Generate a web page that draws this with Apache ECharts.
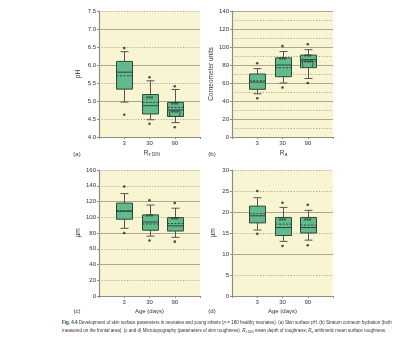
<!DOCTYPE html>
<html><head><meta charset="utf-8">
<script src="https://cdn.jsdelivr.net/npm/echarts@6/dist/echarts.min.js"></script>
<style>html,body{margin:0;padding:0;background:#fff}#c{width:400px;height:343px}</style>
</head><body><div id="c"></div>
<script>
// categories (age in days)
const ageLabels = ['3', '30', '90'];
// box stats per age: [xIndex, whiskerLow, Q1, median, mean, Q3, whiskerHigh]
const boxA = [[1, 4.97, 5.33, 5.80, 5.70, 6.10, 6.37], [2, 4.48, 4.64, 4.87, 4.96, 5.18, 5.56], [3, 4.40, 4.57, 4.75, 4.82, 4.96, 5.32]];
const outA = [[1, 6.47], [1, 4.62], [2, 5.66], [2, 4.37], [3, 5.41], [3, 4.27]];
const starsA = [[2, 5.05, '***'], [3, 4.88, '***'], [3, 4.67, '(***)']];

const boxB = [[1, 48, 53, 61, 62.5, 70, 76], [2, 60, 67, 80, 77, 88, 95], [3, 65, 77, 86, 84, 91, 97]];
const outB = [[1, 82], [1, 43], [2, 101], [2, 55], [3, 103], [3, 60]];
const starsB = [[2, 85, '***'], [3, 88.5, '***'], [3, 82.5, '(***)']];

const boxC = [[1, 86, 97.5, 107.5, 108.5, 118, 130], [2, 76, 83.5, 94, 91.5, 103, 115.5], [3, 74.5, 82.5, 89, 92, 99.5, 111.5]];
const outC = [[1, 139], [1, 80], [2, 121.5], [2, 70.5], [3, 118], [3, 69]];
const starsC = [[2, 100, '***'], [3, 96.5, '***']];

const boxD = [[1, 15.7, 17.4, 19.1, 19.6, 21.4, 23.4], [2, 13, 14.4, 16.3, 17.1, 18.7, 21.1], [3, 13.3, 15.0, 16.3, 16.9, 18.7, 20.4]];
const outD = [[1, 25], [1, 14.8], [2, 22.2], [2, 11.9], [3, 21.7], [3, 12.1]];
const starsD = [[2, 17.9, '***'], [3, 17.8, '***']];

// axis settings: [min, max, dottedStep, solidStep, labelOnSolid, name]
const axisA = [4, 7.5, 0.5, 1, false, 'pH'];
const axisB = [0, 140, 10, 20, true, 'Corneometer units'];
const axisC = [0, 160, 20, 40, false, 'µm'];
const axisD = [0, 30, 5, 10, false, 'µm'];

const panels = [
  {box: boxA, out: outA, stars: starsA, ax: axisA, grid: {left: 99, top: 11, width: 101, height: 126}, gap: 17, fmt: v => v.toFixed(1)},
  {box: boxB, out: outB, stars: starsB, ax: axisB, grid: {left: 232, top: 11, width: 101, height: 126}, gap: 14, fmt: v => String(v)},
  {box: boxC, out: outC, stars: starsC, ax: axisC, grid: {left: 99, top: 170, width: 101, height: 126}, gap: 16, fmt: v => String(v)},
  {box: boxD, out: outD, stars: starsD, ax: axisD, grid: {left: 232, top: 170, width: 101, height: 126}, gap: 15, fmt: v => String(v)}
];

const GRID_LINE = '#aba795';
const AXIS_LINE = '#8c8c8c';
const FONT = 'Liberation Sans';

function renderBox(params, api) {
  const x = api.value(0);
  const lo = api.coord([x, api.value(1)]);
  const q1 = api.coord([x, api.value(2)]);
  const med = api.coord([x, api.value(3)]);
  const mean = api.coord([x, api.value(4)]);
  const q3 = api.coord([x, api.value(5)]);
  const hi = api.coord([x, api.value(6)]);
  const cx = Math.round(lo[0]) + 0.5;
  const bw = 16, cw = 8;
  const wStyle = {stroke: '#555', lineWidth: 1};
  const dark = '#2d4a3b';
  return {type: 'group', children: [
    {type: 'line', shape: {x1: cx, y1: lo[1], x2: cx, y2: q1[1]}, style: wStyle},
    {type: 'line', shape: {x1: cx, y1: q3[1], x2: cx, y2: hi[1]}, style: wStyle},
    {type: 'line', shape: {x1: cx - cw / 2, y1: lo[1], x2: cx + cw / 2, y2: lo[1]}, style: wStyle},
    {type: 'line', shape: {x1: cx - cw / 2, y1: hi[1], x2: cx + cw / 2, y2: hi[1]}, style: wStyle},
    {type: 'rect', shape: {x: cx - bw / 2, y: q3[1], width: bw, height: q1[1] - q3[1]}, style: {fill: '#62b98c', stroke: dark, lineWidth: 1}},
    {type: 'line', shape: {x1: cx - bw / 2, y1: med[1], x2: cx + bw / 2, y2: med[1]}, style: {stroke: dark, lineWidth: 1}},
    {type: 'line', shape: {x1: cx - bw / 2, y1: mean[1], x2: cx + bw / 2, y2: mean[1]}, style: {stroke: dark, lineWidth: 1, lineDash: [2, 1.5]}}
  ]};
}

const grids = [], xAxes = [], yAxes = [], series = [];
panels.forEach((p, gi) => {
  const [min, max, dStep, sStep, labelOnSolid, name] = p.ax;
  grids.push(Object.assign({show: true, backgroundColor: '#f9f5d2', borderWidth: 0}, p.grid));
  xAxes.push({type: 'value', gridIndex: gi, min: 0, max: 4, interval: 1,
    axisLine: {show: true, onZero: false, lineStyle: {color: AXIS_LINE, width: 1}},
    axisTick: {show: true, length: 2, lineStyle: {color: AXIS_LINE}},
    axisLabel: {fontSize: 6, color: '#333', margin: 3, fontFamily: FONT, formatter: v => ageLabels[v - 1] || ''},
    splitLine: {show: false}});
  const labelled = {
    axisLine: {show: true, onZero: false, lineStyle: {color: AXIS_LINE, width: 1.2}},
    axisTick: {show: true, length: 2, lineStyle: {color: AXIS_LINE}},
    axisLabel: {show: true, fontSize: 6, color: '#333', margin: 3, fontFamily: FONT, formatter: p.fmt},
    name: name, nameLocation: 'middle', nameGap: p.gap,
    nameTextStyle: {fontSize: 6.5, color: '#333', fontFamily: FONT}
  };
  const hidden = {axisLine: {show: false}, axisTick: {show: false}, axisLabel: {show: false}};
  const dotted = Object.assign({type: 'value', gridIndex: gi, min, max, interval: dStep, z: 1,
    position: labelOnSolid ? 'right' : 'left',
    splitLine: {show: true, showMinLine: false, lineStyle: {color: GRID_LINE, width: 1, type: [1.2, 1.6]}}},
    labelOnSolid ? hidden : labelled);
  const solid = Object.assign({type: 'value', gridIndex: gi, min, max, interval: sStep, z: 2,
    position: labelOnSolid ? 'left' : 'right',
    splitLine: {show: true, showMinLine: false, showMaxLine: labelOnSolid, lineStyle: {color: GRID_LINE, width: 1}}},
    labelOnSolid ? labelled : hidden);
  yAxes.push(dotted, solid);
  const yi = gi * 2;
  series.push({type: 'custom', xAxisIndex: gi, yAxisIndex: yi, renderItem: renderBox,
    encode: {x: 0, y: [1, 2, 3, 4, 5, 6]}, data: p.box, z: 3});
  series.push({type: 'scatter', xAxisIndex: gi, yAxisIndex: yi, symbol: 'circle', symbolSize: 2.6,
    itemStyle: {color: '#222'}, data: p.out, z: 4});
  series.push({type: 'scatter', xAxisIndex: gi, yAxisIndex: yi, symbolSize: 0, z: 5,
    data: p.stars.map(s => ({value: [s[0], s[1]], name: s[2]})),
    label: {show: true, position: 'inside', formatter: '{b}', fontSize: 6.5, fontWeight: 'bold', color: '#1d2e26', fontFamily: FONT}});
});

const txt = (x, y, s, size, extra) => ({type: 'text', x: x, y: y,
  style: Object.assign({text: s, fontSize: size, fontFamily: FONT, fill: '#333', textAlign: 'center', textVerticalAlign: 'middle'}, extra || {})});

const graphics = [
  txt(77, 154, '(a)', 6), txt(212, 154, '(b)', 6), txt(77, 311, '(c)', 6), txt(212, 311, '(d)', 6),
  txt(149.5, 311, 'Age (days)', 6), txt(282.5, 311, 'Age (days)', 6),
  txt(146, 153, 'R', 6.5), txt(154, 155, 'z DIN', 4.5),
  txt(282, 153, 'R', 6.5), txt(286, 155, 'a', 4.5),
  {type: 'text', x: 62, y: 323, style: {
    text: '{b|Fig. 4.4}{n| Development of skin surface parameters in neonates and young infants (}{i|n}{n| = 180 healthy neonates). (a) Skin surface pH. (b) Stratum corneum hydration (both}',
    fontFamily: FONT, textVerticalAlign: 'middle',
    rich: {b: {fontSize: 4.5, fontWeight: 'bold', fill: '#1f3b4d', fontFamily: FONT}, n: {fontSize: 4.5, fill: '#333', fontFamily: FONT}, i: {fontSize: 4.5, fontStyle: 'italic', fill: '#333', fontFamily: FONT}}}},
  {type: 'text', x: 62, y: 331, style: {
    text: '{n|measured on the frontal area). (c and d) Microtopography (parameters of skin roughness). }{i|R}{s|z DIN}{n| mean depth of roughness; }{i|R}{s|a}{n| arithmetic mean surface roughness.}',
    fontFamily: FONT, textVerticalAlign: 'middle',
    rich: {n: {fontSize: 4.5, fill: '#333', fontFamily: FONT}, i: {fontSize: 4.5, fontStyle: 'italic', fill: '#333', fontFamily: FONT},
      s: {fontSize: 3.2, fill: '#333', fontFamily: FONT, verticalAlign: 'bottom'}}}}
];

const chart = echarts.init(document.getElementById('c'), null, {renderer: 'canvas'});
chart.setOption({animation: false, backgroundColor: '#fff', grid: grids, xAxis: xAxes, yAxis: yAxes, series: series, graphic: graphics});
</script>
</body></html>
